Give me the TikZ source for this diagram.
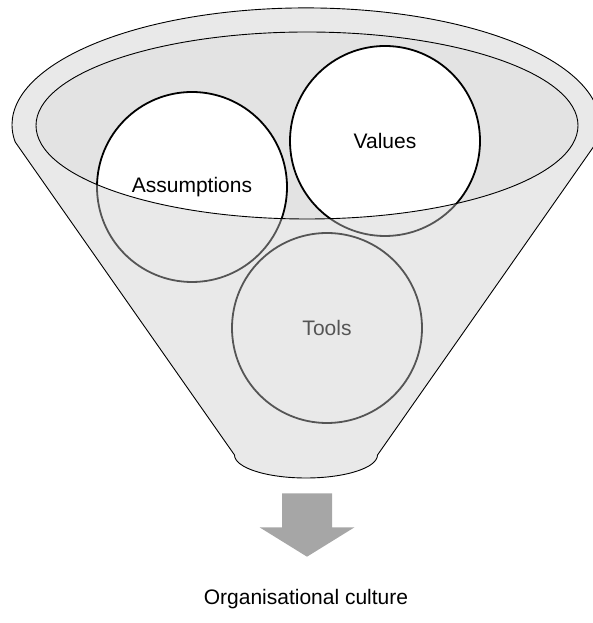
\documentclass[tikz,border=0pt]{standalone}
\usepackage{fontspec}
\setmainfont{Liberation Sans}
\definecolor{rimgrey}{HTML}{CBCBCB}
\definecolor{mouthgrey}{HTML}{E3E3E3}
\definecolor{arrowgrey}{HTML}{A6A6A6}
\begin{document}
\begin{tikzpicture}[x=1pt,y=1pt,
  bubble/.style={circle, minimum size=190pt, inner sep=0pt, draw=black, fill=white, line width=1.8pt},
  bubbletext/.style={font=\fontsize{21}{25}\selectfont, text=black},
  outline/.style={draw=black, line width=0.9pt},
  veil/.style={fill=rimgrey, fill opacity=0.42, even odd rule}]
\useasboundingbox (0,0) rectangle (592,623);
% funnel body: upper arc of the rim, straight sides, rounded spout
\def\funnelshape{(15.2,481) arc[start angle=188.4, end angle=-8.4, x radius=294, y radius=117]
  -- (377.5,168) arc[start angle=0, end angle=-180, x radius=71.5, y radius=23] -- cycle}
\def\mouthshape{(307,497.5) ellipse [x radius=271, y radius=93.5]}
% mouth of the funnel
\fill[mouthgrey] \mouthshape;
% the three bubbles
\node[bubble] (assump) at (192,436) {};
\node[bubble] (values) at (385,482) {};
\node[bubble] (tools) at (327,295) {};
\node[bubbletext] (assumptxt) at (assump.center) {Assumptions};
\node[bubbletext] (valuestxt) at (values.center) {Values};
\node[bubbletext] (toolstxt) at (tools.center) {Tools};
% translucent front of the funnel over everything outside the mouth
\path[veil] \funnelshape \mouthshape;
% outlines
\path[outline] \funnelshape;
\path[outline] \mouthshape;
% output arrow
\fill[arrowgrey] (282,129.7) -- (332,129.7) -- (332,95.7) -- (354.5,95.7)
  -- (307,66.3) -- (259.5,95.7) -- (282,95.7) -- cycle;
\node[font=\fontsize{21}{25}\selectfont, anchor=base] (result) at (306,18.5) {Organisational culture};
\end{tikzpicture}
\end{document}
